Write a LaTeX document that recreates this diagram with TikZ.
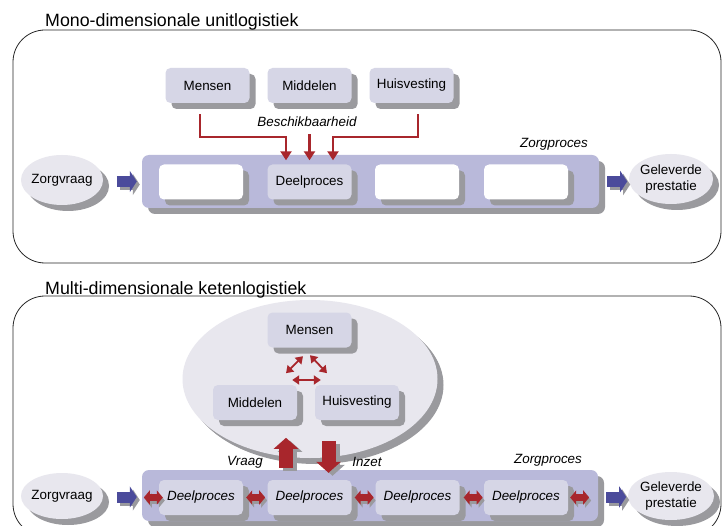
\documentclass[tikz,border=0pt]{standalone}
\usepackage{fontspec}
\setmainfont{Liberation Sans}
\usetikzlibrary{shapes.geometric,shadows,arrows.meta}
\definecolor{boxfill}{HTML}{D6D6E6}
\definecolor{barfill}{HTML}{B9B9DA}
\definecolor{ovalfill}{HTML}{E8E7EE}
\definecolor{shgray}{HTML}{9A9A9E}
\definecolor{arrred}{HTML}{A8262C}
\definecolor{arrblue}{HTML}{4B4B9B}
\tikzset{
  lbl/.style={font=\fontsize{13.4}{16}\selectfont},
  ilbl/.style={font=\fontsize{13.4}{16}\selectfont\itshape},
  ttl/.style={font=\fontsize{17.8}{20}\selectfont, anchor=base west, inner sep=0pt},
  frame/.style={draw=black!85, line width=0.8pt, rounded corners=32pt},
  dshadow/.style={drop shadow={shadow xshift=#1, shadow yshift=-#1, fill=shgray, opacity=1}},
  res/.style={rectangle, rounded corners=5pt, fill=boxfill, minimum width=84pt, minimum height=35pt, inner sep=0pt, lbl, dshadow=6pt},
  wres/.style={res, fill=white},
  procbar/.style={rectangle, rounded corners=7pt, fill=barfill, inner sep=0pt, dshadow=6pt},
  oval/.style={ellipse, fill=ovalfill, inner sep=0pt, dshadow=6pt},
  rline/.style={draw=arrred, line width=2.5pt, -{Triangle[length=9pt,width=11pt]}},
  rthin/.style={draw=arrred, line width=1.8pt, {Triangle[length=7pt,width=9pt]}-{Triangle[length=7pt,width=9pt]}},
  bluearr/.style={draw=arrblue, line width=11pt, -{Triangle[length=7pt,width=21pt]}},
  bluesh/.style={bluearr, draw=shgray, transform canvas={shift={(3pt,-3pt)}}},
  rblock/.style={draw=arrred, line width=14pt, -{Triangle[length=11pt,width=24pt]}},
  rblocksh/.style={rblock, draw=shgray, transform canvas={shift={(4pt,-3pt)}}},
  rdbl/.style={draw=arrred, line width=7pt, {Triangle[length=6pt,width=14pt]}-{Triangle[length=6pt,width=14pt]}},
  rdblsh/.style={rdbl, draw=shgray, transform canvas={shift={(2pt,-3pt)}}},
}
\begin{document}
\begin{tikzpicture}[x=1pt,y=-1pt]
\useasboundingbox (0,0) rectangle (722,526);
\fill[white] (0,0) rectangle (722,526);

% ---------- top panel ----------
\draw[frame] (13,30) rectangle (721,263);
\node[ttl] (t1) at (45,27) {Mono-dimensionale unitlogistiek};

\node[procbar, minimum width=457pt, minimum height=53pt] (bar1) at (370.5,181.5) {};
\node[wres] (a1) at (201,182) {};
\node[res] (d1) at (309.5,182) {Deelproces};
\node[wres] (a3) at (417,182) {};
\node[wres] (a4) at (526,182) {};

\node[res] (m1) at (207.5,85.5) {Mensen};
\node[res] (mi1) at (309.5,85.5) {Middelen};
\node[res] (h1) at (411.5,85.5) {Huisvesting};

\node[ilbl] (bes) at (307,122) {Beschikbaarheid};
\node[ilbl] (zp1) at (554,144) {Zorgproces};

\node[oval, minimum width=82pt, minimum height=50pt, label={[lbl]center:Zorgvraag}] (z1) at (62,180) {};
\node[oval, minimum width=84pt, minimum height=50pt, label={[lbl,align=center]center:Geleverde\\prestatie}] (g1) at (671,179) {};

\draw[rline] ([shift={(-7.5,11)}]m1.south) -- ++(0,23) -| ([shift={(-23.5,-4)}]d1.north);
\draw[rline] ([shift={(0,-30)}]d1.north) -- ([shift={(0,-4)}]d1.north);
\draw[rline] ([shift={(6.5,11)}]h1.south) -- ++(0,23) -| ([shift={(23.5,-4)}]d1.north);

\draw[bluesh] ([shift={(-25,0)}]bar1.west) -- ([shift={(-5,0)}]bar1.west);
\draw[bluearr] ([shift={(-25,0)}]bar1.west) -- ([shift={(-5,0)}]bar1.west);
\draw[bluesh] ([shift={(8,0)}]bar1.east) -- ([shift={(28,0)}]bar1.east);
\draw[bluearr] ([shift={(8,0)}]bar1.east) -- ([shift={(28,0)}]bar1.east);

% ---------- bottom panel ----------
\draw[frame] (13,296) rectangle (721,536);
\node[ttl] (t2) at (45,294.5) {Multi-dimensionale ketenlogistiek};

\node[oval, minimum width=255pt, minimum height=158pt, dshadow=5pt] (pool) at (310,379) {};
\node[res] (m2) at (309.5,330) {Mensen};
\node[res] (mi2) at (255,402.5) {Middelen};
\node[res] (h2) at (357,402.5) {Huisvesting};

\draw[rthin] ([shift={(-23.5,25.5)}]m2.south) -- ([shift={(-6.5,8.5)}]m2.south);
\draw[rthin] ([shift={(0.5,7.5)}]m2.south) -- ([shift={(17.5,25.5)}]m2.south);
\draw[rthin] ([shift={(-5,-22.5)}]mi2.east) -- ([shift={(6,-22.5)}]h2.west);

\node[procbar, minimum width=456pt, minimum height=51pt] (bar2) at (370,495.5) {};
\node[res, ilbl] (e1) at (201,497.5) {Deelproces};
\node[res, ilbl] (e2) at (309.5,497.5) {Deelproces};
\node[res, ilbl] (e3) at (417.5,497.5) {Deelproces};
\node[res, ilbl] (e4) at (526,497.5) {Deelproces};

\node[ilbl] (vr) at (245,462) {Vraag};
\node[ilbl] (inz) at (367,462) {Inzet};
\node[ilbl] (zp2) at (548,460) {Zorgproces};

\draw[rblocksh] ([shift={(-23.5,-12)}]e2.north) -- ([shift={(-23.5,-42)}]e2.north);
\draw[rblock] ([shift={(-23.5,-12)}]e2.north) -- ([shift={(-23.5,-42)}]e2.north);
\draw[rblocksh] ([shift={(19,-39)}]e2.north) -- ([shift={(19,-7)}]e2.north);
\draw[rblock] ([shift={(19,-39)}]e2.north) -- ([shift={(19,-7)}]e2.north);

\draw[rdblsh] ([shift={(-15,0)}]e1.west) -- ([shift={(4,0)}]e1.west);
\draw[rdbl] ([shift={(-15,0)}]e1.west) -- ([shift={(4,0)}]e1.west);
\draw[rdblsh] ([shift={(3,0)}]e1.east) -- ([shift={(22,0)}]e1.east);
\draw[rdbl] ([shift={(3,0)}]e1.east) -- ([shift={(22,0)}]e1.east);
\draw[rdblsh] ([shift={(3,0)}]e2.east) -- ([shift={(22,0)}]e2.east);
\draw[rdbl] ([shift={(3,0)}]e2.east) -- ([shift={(22,0)}]e2.east);
\draw[rdblsh] ([shift={(4,0)}]e3.east) -- ([shift={(23,0)}]e3.east);
\draw[rdbl] ([shift={(4,0)}]e3.east) -- ([shift={(23,0)}]e3.east);
\draw[rdblsh] ([shift={(2,0)}]e4.east) -- ([shift={(21,0)}]e4.east);
\draw[rdbl] ([shift={(2,0)}]e4.east) -- ([shift={(21,0)}]e4.east);

\node[oval, minimum width=82pt, minimum height=46pt, label={[lbl]center:Zorgvraag}] (z2) at (62,496) {};
\node[oval, minimum width=86pt, minimum height=48pt, label={[lbl,align=center]center:Geleverde\\prestatie}] (g2) at (671,496) {};

\draw[bluesh] ([shift={(-25,1.5)}]bar2.west) -- ([shift={(-5,1.5)}]bar2.west);
\draw[bluearr] ([shift={(-25,1.5)}]bar2.west) -- ([shift={(-5,1.5)}]bar2.west);
\draw[bluesh] ([shift={(8,1.5)}]bar2.east) -- ([shift={(28,1.5)}]bar2.east);
\draw[bluearr] ([shift={(8,1.5)}]bar2.east) -- ([shift={(28,1.5)}]bar2.east);
\end{tikzpicture}
\end{document}
